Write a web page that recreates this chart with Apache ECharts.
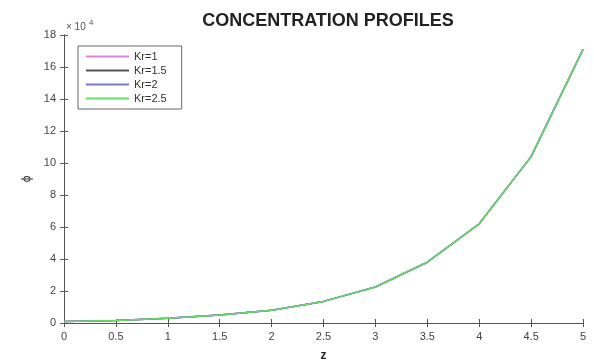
<!DOCTYPE html>
<html><head><meta charset="utf-8">
<script src="https://cdn.jsdelivr.net/npm/echarts@6/dist/echarts.min.js"></script>
<style>html,body{margin:0;padding:0;background:#fff}#c{width:594px;height:362px}</style>
</head><body><div id="c"></div>
<script>
const zValues = [0, 0.5, 1, 1.5, 2, 2.5, 3, 3.5, 4, 4.5, 5];
const seriesNames = ['Kr=1', 'Kr=1.5', 'Kr=2', 'Kr=2.5'];
const kr1 = [0.1, 0.15, 0.3, 0.5, 0.8, 1.35, 2.25, 3.8, 6.2, 10.4, 17.1];
const kr15 = [0.1, 0.15, 0.3, 0.5, 0.8, 1.35, 2.25, 3.8, 6.2, 10.4, 17.1];
const kr2 = [0.1, 0.15, 0.3, 0.5, 0.8, 1.35, 2.25, 3.8, 6.2, 10.4, 17.1];
const kr25 = [0.1, 0.15, 0.3, 0.5, 0.8, 1.35, 2.25, 3.8, 6.2, 10.4, 17.1];
const colors = ['#e080e0', '#555555', '#7777cc', '#66dd66'];
const allData = [kr1, kr15, kr2, kr25];

const chart = echarts.init(document.getElementById('c'));
const font = 'Liberation Sans, Arial, sans-serif';
const tickStyle = {show:true, inside:true, length:4, lineStyle:{color:'#555'}};
chart.setOption({
  animation:false,
  color: colors,
  title:{text:'CONCENTRATION PROFILES', left:323, top:7, textAlign:'center',
    textStyle:{fontFamily:font, fontSize:18, fontWeight:'bold', color:'#222'}},
  grid:{left:64, right:11, top:35, bottom:39, outerBoundsMode:'none', containLabel:false},
  legend:{
    orient:'vertical', left:78, top:46, itemWidth:43, itemHeight:2, itemGap:3,
    borderColor:'#666', borderWidth:1, padding:[5,15,5,8],
    backgroundColor:'#fff',
    icon:'rect',
    textStyle:{fontFamily:font, fontSize:11, color:'#333'},
    data: seriesNames
  },
  graphic:[
    {type:'text', left:66, top:22, style:{text:'× 10', fontFamily:font, fontSize:10, fill:'#555'}},
    {type:'text', left:89, top:19, style:{text:'4', fontFamily:font, fontSize:8, fill:'#555'}}
  ],
  xAxis:[{
    type:'value', min:0, max:5, interval:0.5,
    name:'z', nameLocation:'middle', nameGap:27,
    nameTextStyle:{fontFamily:font, fontSize:12, fontWeight:'bold', color:'#222'},
    axisLine:{lineStyle:{color:'#555', width:1}},
    axisTick:tickStyle,
    axisLabel:{fontFamily:font, fontSize:11, color:'#444', margin:8},
    splitLine:{show:false}
  },{
    type:'value', min:0, max:5, interval:0.5, position:'top',
    axisLine:{show:true, lineStyle:{color:'#555'}}, axisTick:tickStyle,
    axisLabel:{show:false}, splitLine:{show:false}
  }],
  yAxis:[{
    type:'value', min:0, max:18, interval:2,
    name:'ϕ', nameLocation:'middle', nameGap:30,
    nameTextStyle:{fontFamily:font, fontSize:12, color:'#333'},
    axisLine:{show:true, lineStyle:{color:'#555'}},
    axisTick:tickStyle,
    axisLabel:{fontFamily:font, fontSize:11, color:'#444', margin:8},
    splitLine:{show:false}
  },{
    type:'value', min:0, max:18, interval:2, position:'right',
    axisLine:{show:true, lineStyle:{color:'#555'}}, axisTick:tickStyle,
    axisLabel:{show:false}, splitLine:{show:false}
  }],
  series: seriesNames.map((n,i)=>({
    name:n, type:'line', showSymbol:false, symbol:'none',
    lineStyle:{width:1.5, color:colors[i]},
    itemStyle:{color:colors[i]},
    data: zValues.map((z,j)=>[z, allData[i][j]])
  }))
});
</script></body></html>
